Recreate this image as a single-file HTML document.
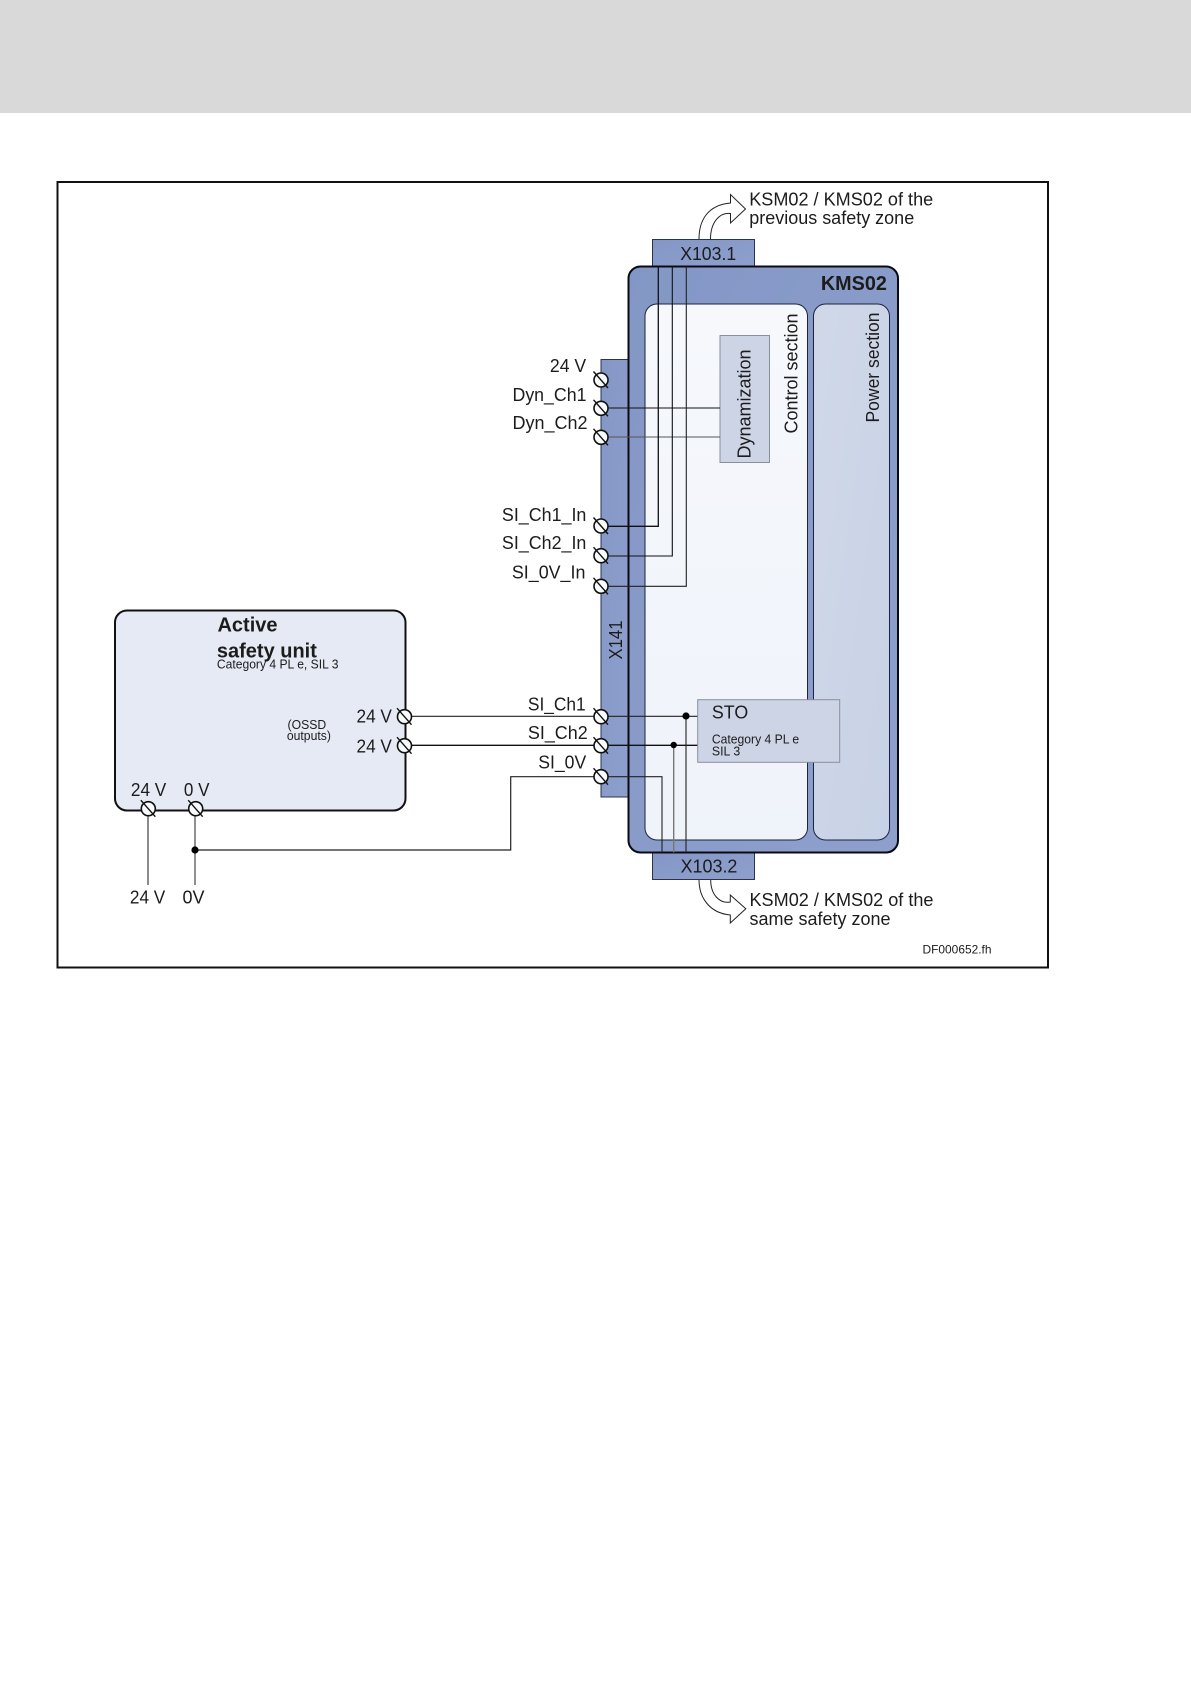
<!DOCTYPE html>
<html>
<head>
<meta charset="utf-8">
<style>
html,body{margin:0;padding:0;background:#fff;}
svg{display:block;}
text{font-family:"Liberation Sans",sans-serif;fill:#1c1c1c;}
</style>
</head>
<body>
<svg width="1191" height="1684" viewBox="0 0 1191 1684" xmlns="http://www.w3.org/2000/svg">
<defs>
<linearGradient id="blue" x1="0" y1="0" x2="1" y2="1"><stop offset="0" stop-color="#8397c6"/><stop offset="1" stop-color="#8e9fcc"/></linearGradient>
<linearGradient id="ctl" x1="0" y1="0" x2="0" y2="1"><stop offset="0" stop-color="#f6f8fc"/><stop offset="1" stop-color="#eff3fa"/></linearGradient>
<linearGradient id="pow" x1="0" y1="0" x2="1" y2="1"><stop offset="0" stop-color="#d0d8e8"/><stop offset="1" stop-color="#c8d2e6"/></linearGradient>
<g id="t"><circle r="7" fill="#f8f9fb" stroke="#111" stroke-width="1.6"/><line x1="-7.5" y1="-8.5" x2="7" y2="8" stroke="#111" stroke-width="1.4"/></g>
</defs>
<rect x="0" y="0" width="1191" height="113" fill="#d9d9d9"/>
<rect x="57.5" y="182" width="990.5" height="785.5" fill="#fff" stroke="#111" stroke-width="2"/>

<!-- connectors blocks -->
<rect x="652.5" y="239.5" width="102" height="27" fill="url(#blue)" stroke="#2b3350" stroke-width="1"/>
<rect x="652.5" y="852" width="102" height="27.5" fill="url(#blue)" stroke="#2b3350" stroke-width="1"/>
<rect x="601" y="359.5" width="28" height="437.5" fill="url(#blue)" stroke="#2b3350" stroke-width="1"/>

<!-- KMS02 -->
<rect x="628.5" y="266.5" width="269.5" height="586" rx="12" fill="url(#blue)" stroke="#0a0a14" stroke-width="2"/>
<rect x="645" y="304" width="162.5" height="536" rx="12" fill="url(#ctl)" stroke="#1b2340" stroke-width="1"/>
<rect x="813.5" y="304" width="76" height="536" rx="12" fill="url(#pow)" stroke="#1b2340" stroke-width="1"/>

<!-- Dynamization and STO -->
<rect x="720" y="335.5" width="49.5" height="127" fill="#cdd4e6" stroke="#8a8f9c" stroke-width="1"/>

<!-- Active unit -->
<rect x="115" y="610.5" width="290.5" height="200" rx="12" fill="#e6eaf5" stroke="#111" stroke-width="2"/>

<!-- wires -->
<g fill="none" stroke-width="1.1">
<path d="M601 408H720" stroke="#111"/>
<path d="M601 437H720" stroke="#555"/>
<path d="M601 526.3H658.3V266" stroke="#111" stroke-width="1.3"/>
<path d="M601 556H672.3V266" stroke="#111"/>
<path d="M601 586.3H686.3V266" stroke="#222"/>
<path d="M404 716.3H698" stroke="#222"/>
<path d="M404 745.3H698" stroke="#111" stroke-width="1.3"/>
<path d="M686 716V852.5" stroke="#222"/>
<path d="M673.7 745V852.5" stroke="#777" stroke-width="1.4"/>
<path d="M601 776.7H510.7V850H195" stroke="#222" stroke-width="1.2"/>
<path d="M601 776.7H662V852.5" stroke="#222"/>
<path d="M148 808V885" stroke="#666" stroke-width="1.5"/>
<path d="M195 808V885" stroke="#555" stroke-width="1.3"/>
</g>
<rect x="697.7" y="699.7" width="142" height="62.6" fill="#cdd4e6" stroke="#8a8f9c" stroke-width="1"/>
<circle cx="686" cy="716" r="3.6" fill="#000"/>
<circle cx="673.7" cy="745" r="3.2" fill="#000"/>
<circle cx="195" cy="850" r="3.6" fill="#000"/>

<!-- arrows -->
<path d="M699 239C699 220 708 205 730.5 203V194.5L745.5 209L730.5 223V213.5C720 212 710.5 222 710.5 239" fill="#fff" stroke="#222" stroke-width="1"/>
<path d="M699 880C699 897 709 913 730.3 915V923L745.8 908.7L730.3 895V902C720 904 710.7 895 710.7 880" fill="#fff" stroke="#222" stroke-width="1"/>

<!-- terminals -->
<use href="#t" x="601" y="380"/>
<use href="#t" x="601" y="408.3"/>
<use href="#t" x="601" y="437.3"/>
<use href="#t" x="601" y="526"/>
<use href="#t" x="601" y="555.7"/>
<use href="#t" x="601" y="586.3"/>
<use href="#t" x="601" y="716.7"/>
<use href="#t" x="601" y="745.7"/>
<use href="#t" x="601" y="776.7"/>
<use href="#t" x="404.5" y="716.7"/>
<use href="#t" x="404.5" y="745.7"/>
<use href="#t" x="148.3" y="808.7"/>
<use href="#t" x="195.7" y="808.7"/>

<!-- text -->
<g font-size="18.5">
<g transform="translate(-0.8,0)">
<text x="750" y="205.3" textLength="184" lengthAdjust="spacingAndGlyphs">KSM02 / KMS02 of the</text>
<text x="750" y="224" textLength="165" lengthAdjust="spacingAndGlyphs">previous safety zone</text>
<text x="681" y="260" textLength="56" lengthAdjust="spacingAndGlyphs">X103.1</text>
<text x="681.4" y="872.7" textLength="56.8" lengthAdjust="spacingAndGlyphs">X103.2</text>
<text x="750.3" y="906" textLength="184" lengthAdjust="spacingAndGlyphs">KSM02 / KMS02 of the</text>
<text x="750.3" y="925" textLength="141" lengthAdjust="spacingAndGlyphs">same safety zone</text>

<text x="550.7" y="372" textLength="36.3" lengthAdjust="spacingAndGlyphs">24 V</text>
<text x="513.3" y="401" textLength="74" lengthAdjust="spacingAndGlyphs">Dyn_Ch1</text>
<text x="513.3" y="429" textLength="75" lengthAdjust="spacingAndGlyphs">Dyn_Ch2</text>
<text x="502.7" y="521" textLength="84.5" lengthAdjust="spacingAndGlyphs">SI_Ch1_In</text>
<text x="502.7" y="549" textLength="84.5" lengthAdjust="spacingAndGlyphs">SI_Ch2_In</text>
<text x="512.7" y="578.3" textLength="73.5" lengthAdjust="spacingAndGlyphs">SI_0V_In</text>
<text x="528.7" y="710.3" textLength="57.8" lengthAdjust="spacingAndGlyphs">SI_Ch1</text>
<text x="528.7" y="739" textLength="59.8" lengthAdjust="spacingAndGlyphs">SI_Ch2</text>
<text x="539" y="768.3" textLength="48" lengthAdjust="spacingAndGlyphs">SI_0V</text>
<text x="712.7" y="718.3" textLength="36.3" lengthAdjust="spacingAndGlyphs">STO</text>

<text x="357.3" y="722.7" textLength="35.4" lengthAdjust="spacingAndGlyphs">24 V</text>
<text x="357.3" y="752.7" textLength="35.4" lengthAdjust="spacingAndGlyphs">24 V</text>
<text x="131.7" y="796" textLength="35.4" lengthAdjust="spacingAndGlyphs">24 V</text>
<text x="184.7" y="796" textLength="25.6" lengthAdjust="spacingAndGlyphs">0 V</text>
<text x="130.7" y="903.3" textLength="35.4" lengthAdjust="spacingAndGlyphs">24 V</text>
<text x="183.3" y="903.3" textLength="22" lengthAdjust="spacingAndGlyphs">0V</text>
</g>

<text transform="translate(622,659.5) rotate(-90)" textLength="39" lengthAdjust="spacingAndGlyphs">X141</text>
<text transform="translate(750.3,458.5) rotate(-90)" textLength="109" lengthAdjust="spacingAndGlyphs">Dynamization</text>
<text transform="translate(797.7,433.5) rotate(-90)" textLength="120" lengthAdjust="spacingAndGlyphs">Control section</text>
<text transform="translate(878.8,422.5) rotate(-90)" textLength="110" lengthAdjust="spacingAndGlyphs">Power section</text>
</g>
<g font-size="20.5" font-weight="bold" transform="translate(-0.8,0)">
<text x="821.7" y="290" textLength="66" lengthAdjust="spacingAndGlyphs">KMS02</text>
<text x="218.3" y="631.7" textLength="60" lengthAdjust="spacingAndGlyphs">Active</text>
<text x="217.7" y="657.7" textLength="100" lengthAdjust="spacingAndGlyphs">safety unit</text>
</g>
<g font-size="13" transform="translate(-0.8,0)">
<text x="217.7" y="668.7" textLength="121.6" lengthAdjust="spacingAndGlyphs">Category 4 PL e, SIL 3</text>
<text x="288.3" y="729" textLength="38.7" lengthAdjust="spacingAndGlyphs">(OSSD</text>
<text x="287.7" y="740" textLength="44" lengthAdjust="spacingAndGlyphs">outputs)</text>
<text x="712.7" y="743.3" textLength="87.3" lengthAdjust="spacingAndGlyphs">Category 4 PL e</text>
<text x="712.7" y="755.3" textLength="28.3" lengthAdjust="spacingAndGlyphs">SIL 3</text>
</g>
<text x="922.5" y="953.3" font-size="12" fill="#333" textLength="69" lengthAdjust="spacingAndGlyphs">DF000652.fh</text>
</svg>
</body>
</html>
